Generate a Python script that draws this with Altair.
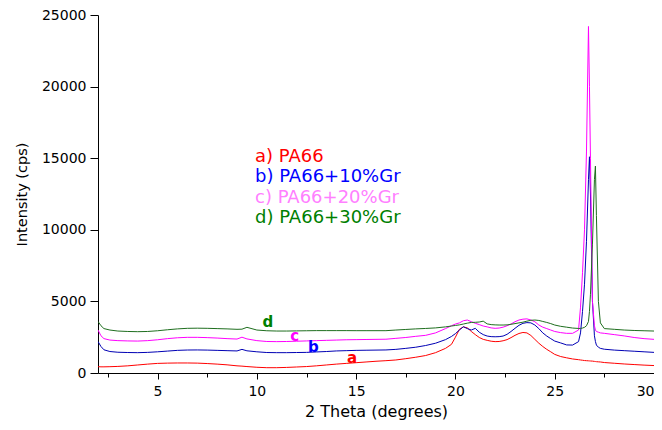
import altair as alt
import pandas as pd

# 2-theta positions (degrees)
two_theta = [
    2.0, 2.15, 2.3, 2.6, 3.0, 3.5, 4.0, 4.5, 5.0, 5.5,
    6.0, 6.5, 7.0, 7.5, 8.0, 8.5, 9.0, 9.25, 9.5, 10.0,
    10.5, 11.0, 11.5, 12.0, 12.5, 13.0, 13.5, 14.0, 14.5, 15.0,
    15.5, 16.0, 16.5, 17.0, 17.5, 18.0, 18.5, 19.0, 19.5, 19.8,
    20.0, 20.2, 20.4, 20.6, 20.8, 21.0, 21.2, 21.4, 21.6, 21.8,
    22.0, 22.2, 22.4, 22.6, 22.8, 23.0, 23.2, 23.4, 23.6, 23.8,
    24.0, 24.2, 24.4, 24.6, 24.8, 25.0, 25.3, 25.6, 25.9, 26.2,
    26.3, 26.4, 26.5, 26.6, 26.7, 26.75, 26.8, 26.9, 27.0, 27.05,
    27.1, 27.2, 27.3, 27.5, 28.0, 28.5, 29.0, 29.5, 30.0,
]

pa66 = [
    440, 430, 430, 440, 460, 500, 560, 620, 670, 690,
    700, 700, 690, 660, 620, 570, 500, 480, 450, 400,
    370, 370, 390, 420, 450, 500, 560, 620, 670, 720,
    770, 820, 860, 910, 1000, 1100, 1220, 1420, 1720, 2000,
    2500, 3050, 3220, 3150, 2900, 2680, 2480, 2350, 2280, 2220,
    2190, 2200, 2250, 2330, 2470, 2630, 2760, 2830, 2800, 2620,
    2350, 2080, 1850, 1650, 1480, 1300, 1150, 1060, 980, 930,
    910, 890, 870, 860, 850, 845, 840, 830, 810, 800,
    790, 780, 770, 730, 680, 630, 590, 550, 520,
]

pa66_10gr = [
    2200, 1850, 1620, 1500, 1450, 1430, 1420, 1440, 1480, 1530,
    1580, 1605, 1610, 1600, 1580, 1560, 1540, 1650, 1550, 1480,
    1430, 1420, 1420, 1430, 1440, 1470, 1500, 1540, 1560, 1580,
    1590, 1600, 1610, 1650, 1720, 1800, 1920, 2080, 2330, 2550,
    2750, 3000, 3230, 3100, 3000, 3120, 2850, 2680, 2580, 2540,
    2530, 2540, 2580, 2700, 2900, 3120, 3330, 3470, 3520, 3500,
    3350, 3100, 2800, 2580, 2400, 2230, 2100, 1960, 1950, 2190,
    2800, 4300, 6200, 9200, 13500, 15100, 12500, 5000, 2600, 2200,
    1950, 1800, 1720, 1660, 1600, 1560, 1520, 1480, 1440,
]

pa66_20gr = [
    3000, 2600, 2400, 2300, 2260, 2240, 2230, 2260, 2320, 2400,
    2460, 2490, 2490, 2470, 2440, 2400, 2370, 2500, 2380, 2260,
    2200, 2190, 2200, 2220, 2240, 2260, 2280, 2300, 2320, 2330,
    2340, 2350, 2360, 2420, 2480, 2560, 2630, 2800, 3100, 3300,
    3420, 3500, 3650, 3700, 3580, 3470, 3380, 3280, 3220, 3150,
    3120, 3140, 3200, 3300, 3420, 3580, 3700, 3760, 3780, 3700,
    3580, 3350, 3200, 3100, 3000, 2900, 2820, 2770, 2770, 3000,
    4600, 7000, 10000, 15500, 24200, 20000, 15000, 5000, 3300, 3000,
    2900, 2850, 2800, 2770, 2680, 2590, 2480, 2400, 2350,
]

pa66_30gr = [
    3600, 3300, 3100, 3000, 2930, 2900, 2885, 2900, 2950, 3020,
    3080, 3120, 3130, 3120, 3100, 3080, 3050, 3060, 3190, 3000,
    2950, 2930, 2930, 2940, 2950, 2960, 2960, 2960, 2960, 2955,
    2955, 2955, 2955, 3000, 3040, 3080, 3110, 3150, 3220, 3280,
    3320, 3360, 3420, 3480, 3530, 3540, 3560, 3620, 3430, 3380,
    3360, 3350, 3350, 3360, 3400, 3450, 3500, 3550, 3620, 3680,
    3700, 3670, 3600, 3530, 3450, 3350, 3260, 3200, 3140, 3110,
    3110, 3140, 3190, 3300, 3600, 4300, 5500, 9000, 13500, 14450,
    11000, 5000, 3500, 3100, 3050, 3000, 2970, 2950, 2930,
]

series_names = ["a) PA66", "b) PA66+10%Gr", "c) PA66+20%Gr", "d) PA66+30%Gr"]
series_values = [pa66, pa66_10gr, pa66_20gr, pa66_30gr]
line_colors = ["#ff0000", "#0000b4", "#ff00ff", "#1e6e1e"]
text_colors = ["#ff0000", "#0000ff", "#ff80ff", "#008000"]
mark_colors = ["#ff0000", "#0000ff", "#ff00ff", "#008000"]

# curve letters and where they sit (data units)
letters = ["a", "b", "c", "d"]
letter_x = [14.8, 12.85, 11.9, 10.55]
letter_y = [1050, 1800, 2580, 3560]

rows = []
for name, vals in zip(series_names, series_values):
    for t, v in zip(two_theta, vals):
        rows.append({"two_theta": t, "intensity": v, "series": name})
df = pd.DataFrame(rows)

FONT = "DejaVu Sans"

x_axis = alt.Axis(
    values=[2.5 * i for i in range(1, 13)],
    labelExpr="datum.value % 5 === 0 ? datum.label : ''",
    format="d",
    tickSize={"condition": {"test": "datum.value % 5 !== 0", "value": 4}, "value": 6},
    labelPadding=5,
    titlePadding=5,
    labelFontSize=14,
    titleFontSize=16,
    grid=False,
)
y_axis = alt.Axis(
    values=[2500 * i for i in range(0, 11)],
    labelExpr="datum.value % 5000 === 0 ? datum.label : ''",
    format="d",
    tickSize={"condition": {"test": "datum.value % 5000 !== 0", "value": 4}, "value": 8},
    labelPadding=4,
    titlePadding=12,
    labelFontSize=14,
    titleFontSize=14.5,
    grid=False,
)

lines = alt.Chart(df).mark_line(strokeWidth=1, clip=True).encode(
    x=alt.X("two_theta:Q", title="2 Theta (degrees)",
            scale=alt.Scale(domain=[2, 30], nice=False, zero=False), axis=x_axis),
    y=alt.Y("intensity:Q", title="Intensity (cps)",
            scale=alt.Scale(domain=[0, 25000], nice=False), axis=y_axis),
    color=alt.Color("series:N", scale=alt.Scale(domain=series_names, range=line_colors), legend=None),
)

ldf = pd.DataFrame({"letter": letters, "x": letter_x, "y": letter_y, "series": series_names})
letter_marks = alt.Chart(ldf).mark_text(font=FONT, fontSize=15, fontWeight="bold").encode(
    x="x:Q",
    y="y:Q",
    text="letter:N",
    color=alt.Color("series:N", scale=alt.Scale(domain=series_names, range=mark_colors), legend=None),
)

legend_layers = []
for i, (name, col) in enumerate(zip(series_names, text_colors)):
    legend_layers.append(
        alt.Chart(pd.DataFrame({"t": [name]})).mark_text(
            font=FONT, fontSize=18, align="left", baseline="middle", color=col
        ).encode(x=alt.value(157), y=alt.value(142 + 20.3 * i), text="t:N")
    )

chart = alt.layer(lines, letter_marks, *legend_layers).resolve_scale(color="independent").properties(
    width=556,
    height=358,
    autosize=alt.AutoSizeParams(type="none"),
    padding={"left": 90, "top": 7, "right": 0, "bottom": 49},
).configure_axis(
    labelFont=FONT,
    titleFont=FONT,
    titleFontWeight="normal",
    labelColor="black",
    titleColor="black",
    domainColor="black",
    tickColor="black",
    domainWidth=1,
    tickWidth=1,
).configure_view(strokeOpacity=0)

chart.save("out.html", embed_options={"renderer": "svg", "actions": False})
